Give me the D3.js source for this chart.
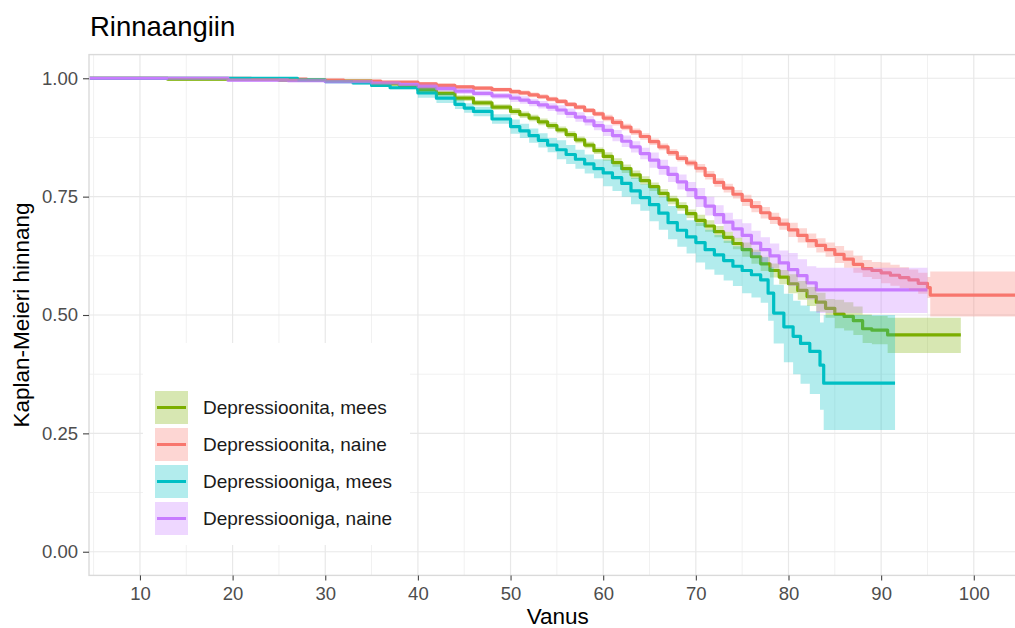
<!DOCTYPE html>
<html><head><meta charset="utf-8">
<script src="https://cdn.jsdelivr.net/npm/d3@7"></script>
<style>body{margin:0;background:#fff} svg{display:block} text{font-family:"Liberation Sans",Arial,Helvetica,sans-serif}</style>
</head><body><svg id="c" width="1015" height="628"></svg>
<script>
// ---------- data ----------
const groups = ["Depressioonita, mees", "Depressioonita, naine", "Depressiooniga, mees", "Depressiooniga, naine"];
const colors = ["#7CAE00", "#F8766D", "#00BFC4", "#C77CFF"];
const xTicks = [10, 20, 30, 40, 50, 60, 70, 80, 90, 100];
const yTicks = [0, 0.25, 0.5, 0.75, 1];
const yTickLabels = ["0.00", "0.25", "0.50", "0.75", "1.00"];
const titleText = "Rinnaangiin";
const xTitle = "Vanus";
const yTitle = "Kaplan-Meieri hinnang";

// Depressioonita, mees
const noDepMenAge = [4.5,13,25,30,35,38,40,42,44,46,48,50,51,52,53,54,55,56,57,58,59,60,61,62,63,64,65,66,67,68,69,70,71,72,73,74,75,76,77,78,79,80,81,82,83,84,85,86,87,88,89,90.7,98.6];
const noDepMenSurv = [1,.998,.996,.994,.988,.984,.976,.968,.958,.948,.939,.930,.923,.916,.908,.900,.891,.881,.870,.859,.847,.835,.822,.809,.796,.784,.771,.757,.743,.729,.714,.700,.688,.676,.664,.651,.638,.623,.608,.594,.580,.566,.552,.539,.527,.514,.502,.497,.488,.471,.468,.458,.458];
const noDepMenLower = [1,.995,.993,.991,.985,.981,.970,.962,.952,.942,.933,.923,.916,.909,.901,.893,.884,.874,.863,.852,.840,.826,.813,.800,.787,.775,.762,.748,.734,.720,.705,.688,.676,.664,.652,.639,.623,.608,.593,.579,.565,.546,.532,.519,.507,.494,.472,.467,.458,.441,.438,.420,.420];
const noDepMenUpper = [1,1,.999,.997,.991,.987,.982,.974,.964,.954,.945,.937,.930,.923,.915,.907,.898,.888,.877,.866,.854,.844,.831,.818,.805,.793,.780,.766,.752,.738,.723,.712,.700,.688,.676,.663,.653,.638,.623,.609,.595,.586,.572,.559,.547,.534,.532,.527,.518,.501,.498,.494,.494];

// Depressioonita, naine
const noDepWomenAge = [4.5,22,28,32,36,40,42,44,46,48,50,51,52,53,54,55,56,57,58,59,60,61,62,63,64,65,66,67,68,69,70,71,72,73,74,75,76,77,78,79,80,81,82,83,84,85,86,87,88,89,90,91,92,93,94,95,95.3,105.7];
const noDepWomenSurv = [1,.998,.996,.994,.992,.988,.985,.982,.979,.976,.972,.969,.965,.961,.956,.951,.945,.939,.932,.925,.916,.907,.897,.887,.877,.866,.855,.843,.831,.821,.810,.795,.780,.768,.755,.742,.729,.716,.704,.692,.680,.668,.657,.647,.638,.628,.618,.607,.598,.594,.589,.584,.579,.574,.567,.558,.542,.542];
const noDepWomenLower = [1,.996,.994,.992,.990,.984,.981,.978,.975,.972,.967,.964,.960,.956,.951,.946,.940,.934,.927,.920,.909,.900,.890,.880,.870,.859,.848,.836,.824,.814,.801,.786,.771,.759,.746,.730,.717,.704,.692,.680,.665,.653,.642,.632,.623,.610,.600,.589,.580,.576,.567,.562,.557,.552,.545,.536,.497,.497];
const noDepWomenUpper = [1,1,.998,.996,.994,.992,.989,.986,.983,.980,.977,.974,.970,.966,.961,.956,.950,.944,.937,.930,.923,.914,.904,.894,.884,.873,.862,.850,.838,.828,.819,.804,.789,.777,.764,.754,.741,.728,.716,.704,.695,.683,.672,.662,.653,.646,.636,.625,.616,.612,.611,.606,.601,.596,.589,.580,.592,.592];

// Depressiooniga, mees
const depMenAge = [4.5,27,30,33,35,37,40,42,44,45,46,48,50,51,52,53,54,55,56,57,58,59,60,61,62,63,64,65,66,67,68,69,70,71,72,73,74,75,76,77,77.8,78.4,79.5,80.5,81.3,82.3,83.4,83.8,91.5];
const depMenSurv = [1,.996,.993,.990,.985,.980,.969,.958,.945,.937,.930,.914,.898,.889,.879,.869,.859,.849,.839,.829,.819,.809,.800,.790,.778,.762,.748,.733,.715,.695,.679,.665,.653,.638,.627,.615,.603,.594,.585,.574,.546,.504,.475,.455,.440,.423,.394,.356,.356];
const depMenLower = [1,.993,.990,.987,.982,.977,.959,.948,.935,.927,.920,.904,.883,.874,.864,.854,.844,.829,.819,.809,.799,.789,.772,.762,.750,.734,.720,.698,.680,.660,.644,.630,.611,.596,.585,.573,.561,.546,.537,.526,.488,.440,.400,.375,.355,.333,.300,.257,.257];
const depMenUpper = [1,.999,.996,.993,.988,.983,.979,.968,.955,.947,.940,.924,.913,.904,.894,.884,.874,.869,.859,.849,.839,.829,.828,.818,.806,.790,.776,.768,.750,.730,.714,.700,.695,.680,.669,.657,.645,.642,.633,.622,.601,.564,.545,.530,.520,.508,.484,.500,.500];

// Depressiooniga, naine
const depWomenAge = [4.5,19.5,26,30,35,38,40,42,44,46,48,50,51,52,53,54,55,56,57,58,59,60,61,62,63,64,65,66,67,68,69,70,71,72,73,74,75,76,77,78,79,80,81,82,83,95];
const depWomenSurv = [1,.996,.995,.993,.990,.987,.983,.978,.973,.968,.963,.958,.954,.949,.944,.939,.933,.926,.918,.910,.900,.890,.879,.867,.855,.841,.827,.812,.797,.781,.765,.748,.730,.712,.696,.682,.668,.652,.638,.625,.610,.596,.583,.568,.553,.553];
const depWomenLower = [1,.993,.992,.990,.987,.984,.977,.972,.967,.962,.957,.950,.946,.941,.936,.931,.923,.916,.908,.900,.890,.878,.867,.855,.843,.829,.811,.796,.781,.765,.749,.728,.710,.692,.676,.662,.642,.626,.612,.599,.584,.561,.548,.533,.504,.504];
const depWomenUpper = [1,.999,.998,.996,.993,.990,.989,.984,.979,.974,.969,.966,.962,.957,.952,.947,.943,.936,.928,.920,.910,.902,.891,.879,.867,.853,.843,.828,.813,.797,.781,.768,.750,.732,.716,.702,.694,.678,.664,.651,.636,.631,.618,.603,.600,.600];

// ---------- build ----------
function rows(age, s, lo, up) { return age.map((a, i) => ({age: a, surv: s[i], lower: lo[i], upper: up[i]})); }
const series = [
  rows(noDepMenAge, noDepMenSurv, noDepMenLower, noDepMenUpper),
  rows(noDepWomenAge, noDepWomenSurv, noDepWomenLower, noDepWomenUpper),
  rows(depMenAge, depMenSurv, depMenLower, depMenUpper),
  rows(depWomenAge, depWomenSurv, depWomenLower, depWomenUpper)
];

const svg = d3.select("#c");
const P = {left: 89, right: 1026.6, top: 54.6, bottom: 575.4};
const x = d3.scaleLinear().domain([4.5, 105.7]).range([P.left, P.right]);
const y = d3.scaleLinear().domain([-0.05, 1.05]).range([P.bottom, P.top]);

svg.append("rect").attr("width", 1015).attr("height", 628).attr("fill", "#fff");

svg.append("defs").append("clipPath").attr("id", "clip")
  .append("rect").attr("x", P.left).attr("y", P.top).attr("width", P.right - P.left).attr("height", P.bottom - P.top);

// grid
const grid = svg.append("g");
const xMinor = xTicks.map(t => t - 5).concat([105]);
const yMinor = [0.125, 0.375, 0.625, 0.875];
grid.selectAll(".xm").data(xMinor).join("line")
  .attr("x1", d => x(d)).attr("x2", d => x(d)).attr("y1", P.top).attr("y2", P.bottom)
  .attr("stroke", "#f1f1f1").attr("stroke-width", 1);
grid.selectAll(".ym").data(yMinor).join("line")
  .attr("y1", d => y(d)).attr("y2", d => y(d)).attr("x1", P.left).attr("x2", P.right)
  .attr("stroke", "#f1f1f1").attr("stroke-width", 1);
grid.selectAll(".xM").data(xTicks).join("line")
  .attr("x1", d => x(d)).attr("x2", d => x(d)).attr("y1", P.top).attr("y2", P.bottom)
  .attr("stroke", "#e8e8e8").attr("stroke-width", 1.2);
grid.selectAll(".yM").data(yTicks).join("line")
  .attr("y1", d => y(d)).attr("y2", d => y(d)).attr("x1", P.left).attr("x2", P.right)
  .attr("stroke", "#e8e8e8").attr("stroke-width", 1.2);

const plot = svg.append("g").attr("clip-path", "url(#clip)");
const line = d3.line().x(d => x(d.age)).y(d => y(d.surv)).curve(d3.curveStepAfter);
const area = d3.area().x(d => x(d.age)).y0(d => y(d.lower)).y1(d => y(d.upper)).curve(d3.curveStepAfter);

series.forEach((s, i) => {
  plot.append("path").attr("d", line(s)).attr("fill", "none")
    .attr("stroke", colors[i]).attr("stroke-width", 3.2).attr("stroke-linejoin", "round");
});
series.forEach((s, i) => {
  plot.append("path").attr("d", area(s)).attr("fill", colors[i]).attr("fill-opacity", 0.3);
});

// panel border
svg.append("rect").attr("x", P.left).attr("y", P.top).attr("width", P.right - P.left).attr("height", P.bottom - P.top)
  .attr("fill", "none").attr("stroke", "#dadada").attr("stroke-width", 1.4);

// axes
const xAxis = svg.append("g").attr("transform", `translate(0,${P.bottom})`)
  .call(d3.axisBottom(x).tickValues(xTicks).tickSize(5).tickPadding(6).tickFormat(d3.format("d")));
const yAxis = svg.append("g").attr("transform", `translate(${P.left},0)`)
  .call(d3.axisLeft(y).tickValues(yTicks).tickSize(6).tickPadding(5).tickFormat((d, i) => yTickLabels[i]));
[xAxis, yAxis].forEach(a => {
  a.select(".domain").remove();
  a.selectAll(".tick line").attr("stroke", "#444").attr("stroke-width", 1.1);
  a.selectAll(".tick text").attr("fill", "#4d4d4d").style("font-size", "18.5px")
    .style("font-family", "'Liberation Sans', Arial, sans-serif");
});

// titles
svg.append("text").attr("x", 90).attr("y", 36).text(titleText)
  .style("font-size", "27.5px").attr("fill", "#000");
svg.append("text").attr("x", 557.8).attr("y", 624).attr("text-anchor", "middle").text(xTitle)
  .style("font-size", "22.5px").attr("fill", "#000");
svg.append("text").attr("transform", `translate(29,${(P.top + P.bottom) / 2}) rotate(-90)`)
  .attr("text-anchor", "middle").text(yTitle).style("font-size", "22.5px").attr("fill", "#000");

// legend
const lg = svg.append("g");
lg.append("rect").attr("x", 143).attr("y", 343).attr("width", 267).attr("height", 202).attr("fill", "#fff");
groups.forEach((g, i) => {
  const y0 = 391 + i * 37;
  lg.append("rect").attr("x", 155).attr("y", y0).attr("width", 33).attr("height", 33)
    .attr("fill", colors[i]).attr("fill-opacity", 0.3);
  lg.append("line").attr("x1", 157).attr("x2", 186).attr("y1", y0 + 16.5).attr("y2", y0 + 16.5)
    .attr("stroke", colors[i]).attr("stroke-width", 3);
  lg.append("text").attr("x", 203).attr("y", y0 + 23).text(g).style("font-size", "19px").attr("fill", "#1a1a1a");
});
</script></body></html>
